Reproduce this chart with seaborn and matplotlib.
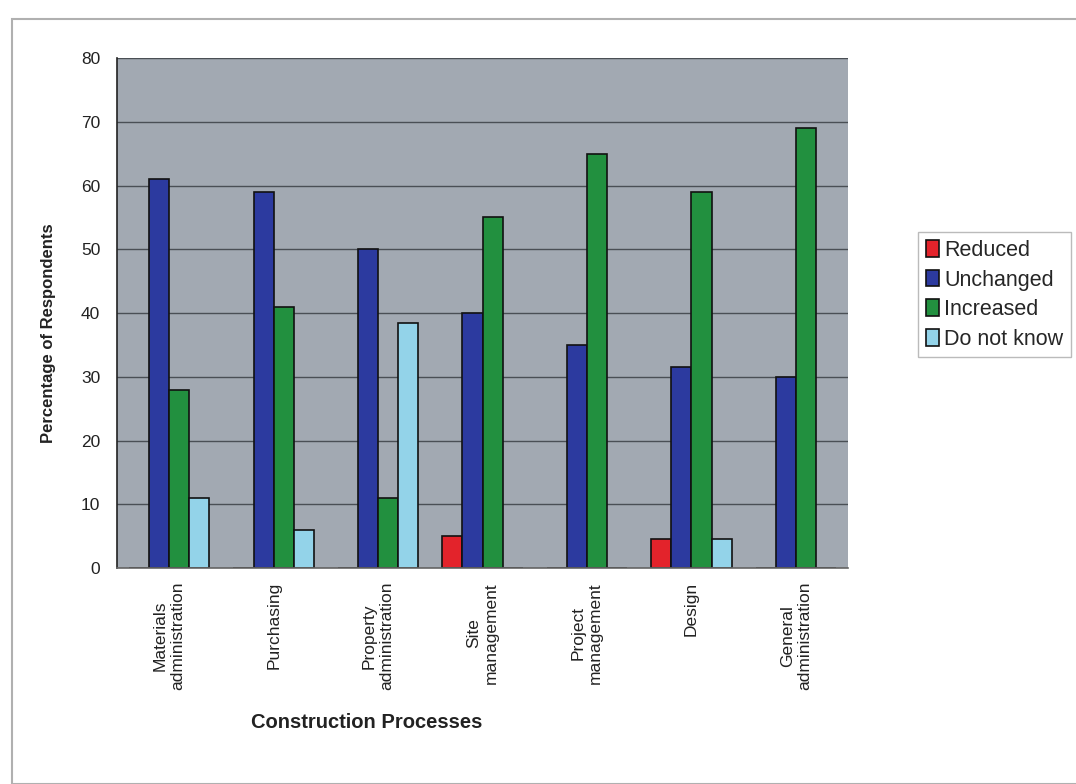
import numpy as np
import pandas as pd
import matplotlib
matplotlib.use("Agg")
import matplotlib.pyplot as plt
import seaborn as sns

# Chart data
processes = [
    "Materials\nadministration",
    "Purchasing",
    "Property\nadministration",
    "Site\nmanagement",
    "Project\nmanagement",
    "Design",
    "General\nadministration",
]
responses = ["Reduced", "Unchanged", "Increased", "Do not know"]
reduced = [0, 0, 0, 5, 0, 4.5, 0]
unchanged = [61, 59, 50, 40, 35, 31.5, 30]
increased = [28, 41, 11, 55, 65, 59, 69]
do_not_know = [11, 6, 38.5, 0, 0, 4.5, 0]

colors = ["#e3232b", "#2c3a9f", "#22903f", "#93d3e9"]

# Long table for seaborn
df = pd.DataFrame({
    "process": processes * 4,
    "response": np.repeat(responses, len(processes)),
    "pct": reduced + unchanged + increased + do_not_know,
})

sns.set_style("white")
plt.rcParams["font.family"] = ["Liberation Sans", "DejaVu Sans"]

fig = plt.figure(figsize=(10.76, 7.84), dpi=100)
ax = fig.add_axes([0.1087, 0.2755, 0.6795, 0.6505])

sns.barplot(
    data=df, x="process", y="pct", hue="response",
    order=processes, hue_order=responses, palette=colors,
    width=0.77, edgecolor="#111111", linewidth=1.2, saturation=1,
    errorbar=None, ax=ax,
)

ax.set_facecolor("#a2a9b2")
ax.set_ylim(0, 80)
ax.set_xlim(-0.5, len(processes) - 0.5)
ax.set_yticks(range(0, 81, 10))
ax.yaxis.grid(True, color="#4a4f55", linewidth=1.0)
ax.set_axisbelow(True)

for side in ["top", "right"]:
    ax.spines[side].set_visible(False)
ax.spines["left"].set_color("#222222")
ax.spines["left"].set_linewidth(1.2)
ax.spines["bottom"].set_color("#666666")
ax.spines["bottom"].set_linewidth(1.2)

# tick marks between categories, labels at the centres
ax.set_xticks(np.arange(-0.5, len(processes), 1.0), minor=True)
ax.tick_params(axis="x", which="major", length=0, pad=10, labelsize=12.5,
               labelcolor="#222222")
ax.tick_params(axis="x", which="minor", length=5, color="#777777",
               direction="out")
ax.tick_params(axis="y", length=4, color="#333333", direction="out",
               labelsize=12.5, labelcolor="#222222", pad=8)
ax.set_xticks(range(len(processes)))
ax.set_xticklabels(processes, rotation=90, va="top", ha="center",
                   multialignment="center")

ax.set_xlabel("Construction Processes", fontsize=14.5, fontweight="bold",
              color="#222222")
ax.xaxis.set_label_coords(0.341, -0.284)
ax.set_ylabel("Percentage of Respondents", fontsize=12, fontweight="bold",
              color="#222222")
ax.yaxis.set_label_coords(-0.083, 0.46)

handles, labels = ax.get_legend_handles_labels()
ax.legend(
    handles, labels, loc="upper left", bbox_to_anchor=(1.096, 0.658),
    frameon=True, fancybox=False, edgecolor="#aaaaaa", fontsize=15.5,
    handlelength=0.6, handleheight=0.8, handletextpad=0.25,
    labelspacing=0.4, borderpad=0.35, borderaxespad=0,
)

# thin frame around the figure
fig.add_artist(plt.Rectangle((12 / 1076, 0), 1.2, 1 - 19 / 784,
                             transform=fig.transFigure, fill=False,
                             edgecolor="#b0b0b0", linewidth=1.5))

fig.savefig("out.png", dpi=100)
